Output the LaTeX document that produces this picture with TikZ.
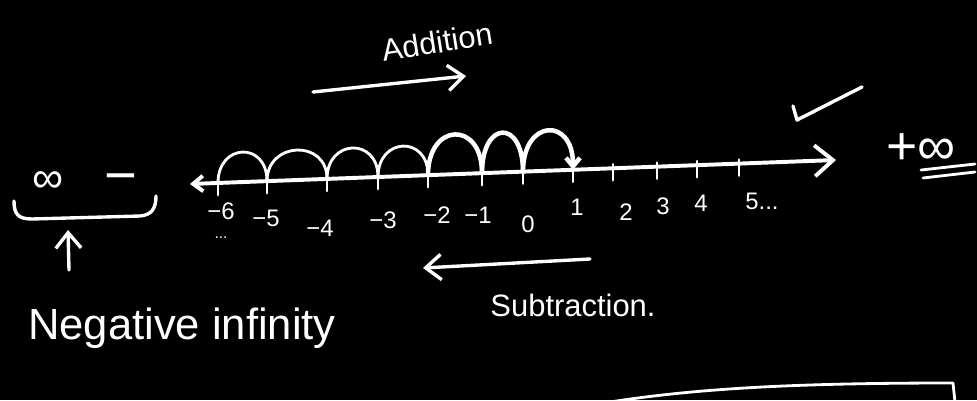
\documentclass[tikz,border=0pt]{standalone}
\usepackage{fontspec}
\setmainfont{Liberation Sans}
\usetikzlibrary{arrows.meta,calc,positioning}

\begin{document}
\begin{tikzpicture}[
  x=0.025cm, y=-0.025cm,
  chalk/.style  ={draw=white,line width=2.4pt,line cap=round,line join=round},
  jump/.style   ={chalk,line width=2pt},
  bigjump/.style={chalk,line width=3.2pt},
  tickmark/.style={chalk,line width=2pt},
  numlbl/.style ={text=white,font=\fontsize{17}{20}\selectfont,inner sep=0pt},
  word/.style   ={text=white,font=\fontsize{22}{26}\selectfont,inner sep=0pt},
  bigword/.style={text=white,font=\fontsize{31}{34}\selectfont,inner sep=0pt},
  barb/.style   ={-{Straight Barb[length=11pt,width=18pt]}},
]

%% board: 977 x 400, y runs downwards
\path[use as bounding box,fill=black] (0,0) rectangle (977,400);

% --- number line ---
\coordinate (lineL) at (190,184);
\coordinate (lineR) at (836,160);
\draw[chalk,line width=2.8pt,
      {Straight Barb[length=7pt,width=11pt]}-{Straight Barb[length=13pt,width=22pt]}]
      (lineL) -- (lineR);

% --- ticks ---
\foreach \n/\x in {m6/218,m5/267,m4/327,m3/378,m2/428,m1/482,
                   z/523,p1/573,p2/613,p3/657,p4/697,p5/739}{
  \coordinate (\n) at ($(lineL)!{(\x-190)/646}!(lineR)$);
  \draw[tickmark] (\n) ++(0,-4) -- ++(0,16);
}

% --- tick labels ---
\foreach \n/\txt/\x/\y in {m6/−6/221/211, m5/−5/266/218, m4/−4/320/228,
                           m3/−3/383/220, m2/−2/437/215, m1/−1/478/215,
                           z/0/528/224, p1/1/577/207, p2/2/626/212,
                           p3/3/663/206, p4/4/701/203}
  \node[numlbl] (l\n) at (\x,\y) {\txt};
\node[numlbl] (lp5) at (762,201) {5...};
\node[numlbl,font=\fontsize{11}{12}\selectfont,below=12pt of lm6] (dots) {...};

% --- jumps ---
\foreach \a/\b in {m6/m5,m5/m4,m4/m3,m3/m2}
  \draw[jump] (\a) .. controls +(0,-40) and +(0,-40) .. (\b);
\foreach \a/\b in {m2/m1,m1/z}
  \draw[bigjump] (\a) .. controls +(0,-53) and +(0,-53) .. (\b);
\draw[bigjump,-{Straight Barb[length=6pt,width=10pt]}]
  (z) .. controls +(0,-53) and +(0,-53) .. (p1);

% --- addition ---
\coordinate (addL) at (313,92);
\coordinate (addR) at (466,76);
\draw[chalk,barb] (addL) -- (addR);
\node[word,rotate=9] (addition) at (437,42) {Addition};

% --- subtraction ---
\coordinate (subR) at (590,259);
\coordinate (subL) at (423,268);
\draw[chalk,barb] (subR) -- (subL);
\node[word] (subtraction) at (573,305) {Subtraction.};

% --- negative infinity ---
\node[bigword] (neginf) at (48,182) {∞};
\node[bigword,font=\fontsize{40}{44}\selectfont] (negsign) at (121,184) {−};
\draw[chalk] (14,201) .. controls (14,214) and (18,219) .. (32,219)
             -- (140,216) .. controls (152,215) and (156,208) .. (156,196);
\node[bigword] (negtext) at (182,328) {Negative infinity};
\coordinate (brace) at (68,230);
\coordinate (uptail) at (69,270);
\draw[chalk,barb] (uptail) -- (brace);

% --- positive infinity ---
\node[text=white,font=\fontsize{38}{42}\selectfont,inner sep=0pt] (posinf) at (921,149) {+∞};
\draw[chalk,line width=2pt] (921,170) -- (975,164);
\draw[chalk,line width=2pt] (923,178) -- (975,172);

% check mark
\draw[chalk] (793,106) -- (797,120) -- (862,87);

% box edge at the bottom
\draw[chalk,line width=2pt] (610,402) .. controls (700,388) and (800,383) .. (953,383) -- (955,402);

\end{tikzpicture}
\end{document}
